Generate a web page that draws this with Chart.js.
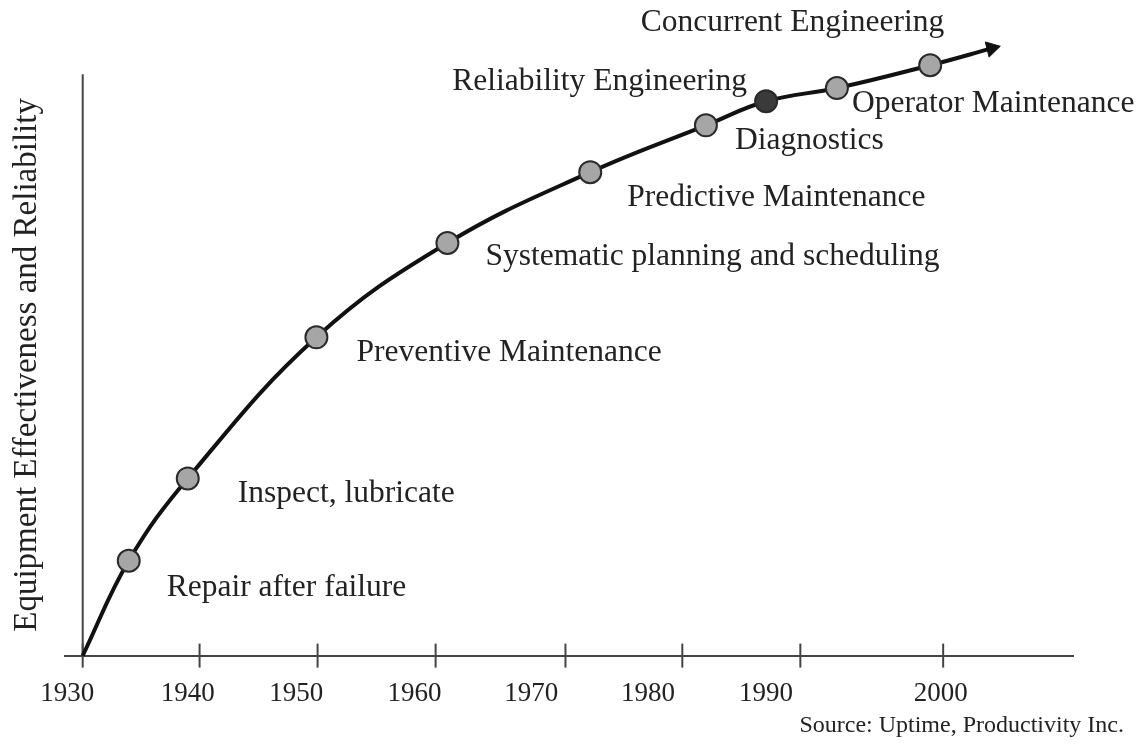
<!DOCTYPE html>
<html>
<head>
<meta charset="utf-8">
<script src="https://cdn.jsdelivr.net/npm/chart.js@4.4.1/dist/chart.umd.min.js"></script>
<style>
  html, body { margin: 0; padding: 0; background: #fff; }
  canvas { display: block; }
</style>
</head>
<body>
<canvas id="chart" width="1143" height="748"></canvas>
<script>
// milestones along the curve
const milestones = [
  'Repair after failure',
  'Inspect, lubricate',
  'Preventive Maintenance',
  'Systematic planning and scheduling',
  'Predictive Maintenance',
  'Diagnostics',
  'Reliability Engineering',
  'Operator Maintenance',
  'Concurrent Engineering'
];
const milestoneYears = [1933.9, 1938.9, 1949.8, 1960.9, 1973.0, 1982.8, 1987.9, 1993.9, 2001.8];
const milestoneLevels = [15.8, 29.5, 53.0, 68.7, 80.5, 88.3, 92.3, 94.5, 98.3];
const darkMilestone = 'Reliability Engineering';

// where the curve begins and where the arrow ends
const curveStart = { x: 1930, y: 0 };
const curveEnd = { x: 2007.0, y: 101.1 };

// top of the vertical axis line
const yAxisTop = 96.8;

// x axis: tick marks and their labels
const tickYears = [1930, 1939.9, 1949.9, 1959.9, 1970.9, 1980.8, 1990.8, 2002.9];
const yearLabels = ['1930', '1940', '1950', '1960', '1970', '1980', '1990', '2000'];
const labelYears = [1928.7, 1938.9, 1948.1, 1958.1, 1968.0, 1977.9, 1987.9, 2002.7];

const yTitle = 'Equipment Effectiveness and Reliability';
const sourceNote = 'Source: Uptime, Productivity Inc.';

const SERIF = '"Liberation Serif", "Times New Roman", serif';
const AXIS_COLOR = '#444';

// label placement next to each marker: [dx, dy, align]
const labelOffsets = [
  [38, 27, 'left'],
  [50, 15, 'left'],
  [40, 15, 'left'],
  [38, 14, 'left'],
  [37, 26, 'left'],
  [29, 15, 'left'],
  [-19, -20, 'right'],
  [15, 16, 'left'],
  [14, -43, 'right']
];

const milestonePoints = milestoneYears.map((x, i) => ({ x, y: milestoneLevels[i] }));
const curvePoints = [curveStart, ...milestonePoints, curveEnd];

const textPlugin = {
  id: 'textPlugin',
  afterDraw(chart) {
    const { ctx, scales } = chart;
    const meta = chart.getDatasetMeta(0);
    ctx.save();
    ctx.fillStyle = '#222';
    ctx.textBaseline = 'middle';
    ctx.font = '31.5px ' + SERIF;
    meta.data.forEach((pt, i) => {
      const [dx, dy, align] = labelOffsets[i];
      ctx.textAlign = align;
      ctx.fillText(milestones[i], pt.x + dx, pt.y + dy);
    });

    // y axis title, centred on the drawn axis line
    const axisX = scales.x.getPixelForValue(1930);
    const midY = (scales.y.getPixelForValue(0) + scales.y.getPixelForValue(yAxisTop)) / 2;
    ctx.save();
    ctx.translate(axisX - 55, midY);
    ctx.rotate(-Math.PI / 2);
    ctx.textAlign = 'center';
    ctx.font = '33px ' + SERIF;
    ctx.fillText(yTitle, 0, 0);
    ctx.restore();

    // source note
    ctx.textAlign = 'right';
    ctx.font = '24px ' + SERIF;
    ctx.fillText(sourceNote, 1124, 726);
    ctx.restore();
  }
};

new Chart(document.getElementById('chart'), {
  type: 'scatter',
  data: {
    datasets: [
      {
        label: 'milestones',
        data: milestonePoints,
        pointRadius: 11,
        pointHoverRadius: 11,
        pointBackgroundColor: milestones.map(m => m === darkMilestone ? '#3a3a3a' : '#a6a6a6'),
        pointBorderColor: '#2a2a2a',
        pointBorderWidth: 2,
        clip: false,
        order: 0
      },
      {
        label: 'arrow',
        data: [curveEnd],
        pointStyle: 'triangle',
        pointRadius: 9,
        pointHoverRadius: 9,
        pointRotation: 76,
        pointBackgroundColor: '#111',
        pointBorderColor: '#111',
        pointBorderWidth: 1,
        clip: false,
        order: 1
      },
      {
        type: 'line',
        label: 'curve',
        data: curvePoints,
        borderColor: '#111',
        borderWidth: 4,
        pointRadius: 0,
        tension: 0.4,
        fill: false,
        clip: false,
        order: 2
      },
      {
        type: 'line',
        label: 'y axis line',
        data: [{ x: 1930, y: 0 }, { x: 1930, y: yAxisTop }],
        borderColor: AXIS_COLOR,
        borderWidth: 2,
        pointRadius: 0,
        fill: false,
        clip: false,
        order: 3
      },
      {
        label: 'ticks',
        data: tickYears.map(x => ({ x, y: 0 })),
        pointStyle: 'line',
        pointRotation: 90,
        pointRadius: 12,
        pointHoverRadius: 12,
        pointBorderColor: AXIS_COLOR,
        pointBorderWidth: 2,
        clip: false,
        order: 4
      }
    ]
  },
  options: {
    responsive: false,
    animation: false,
    layout: { padding: { left: 65, top: 30, right: 70, bottom: 16 } },
    plugins: {
      legend: { display: false },
      tooltip: { enabled: false }
    },
    scales: {
      x: {
        type: 'linear',
        min: 1928.5,
        max: 2013.9,
        grid: { display: false, drawTicks: false },
        border: { display: true, color: AXIS_COLOR, width: 2 },
        afterBuildTicks: axis => {
          axis.ticks = labelYears.map(v => ({ value: v }));
        },
        ticks: {
          autoSkip: false,
          maxRotation: 0,
          minRotation: 0,
          padding: 22,
          color: '#222',
          font: { family: SERIF, size: 27 },
          callback: (v, i) => yearLabels[i]
        }
      },
      y: {
        type: 'linear',
        display: false,
        min: 0,
        max: 104.17
      }
    }
  },
  plugins: [textPlugin]
});
</script>
</body>
</html>
